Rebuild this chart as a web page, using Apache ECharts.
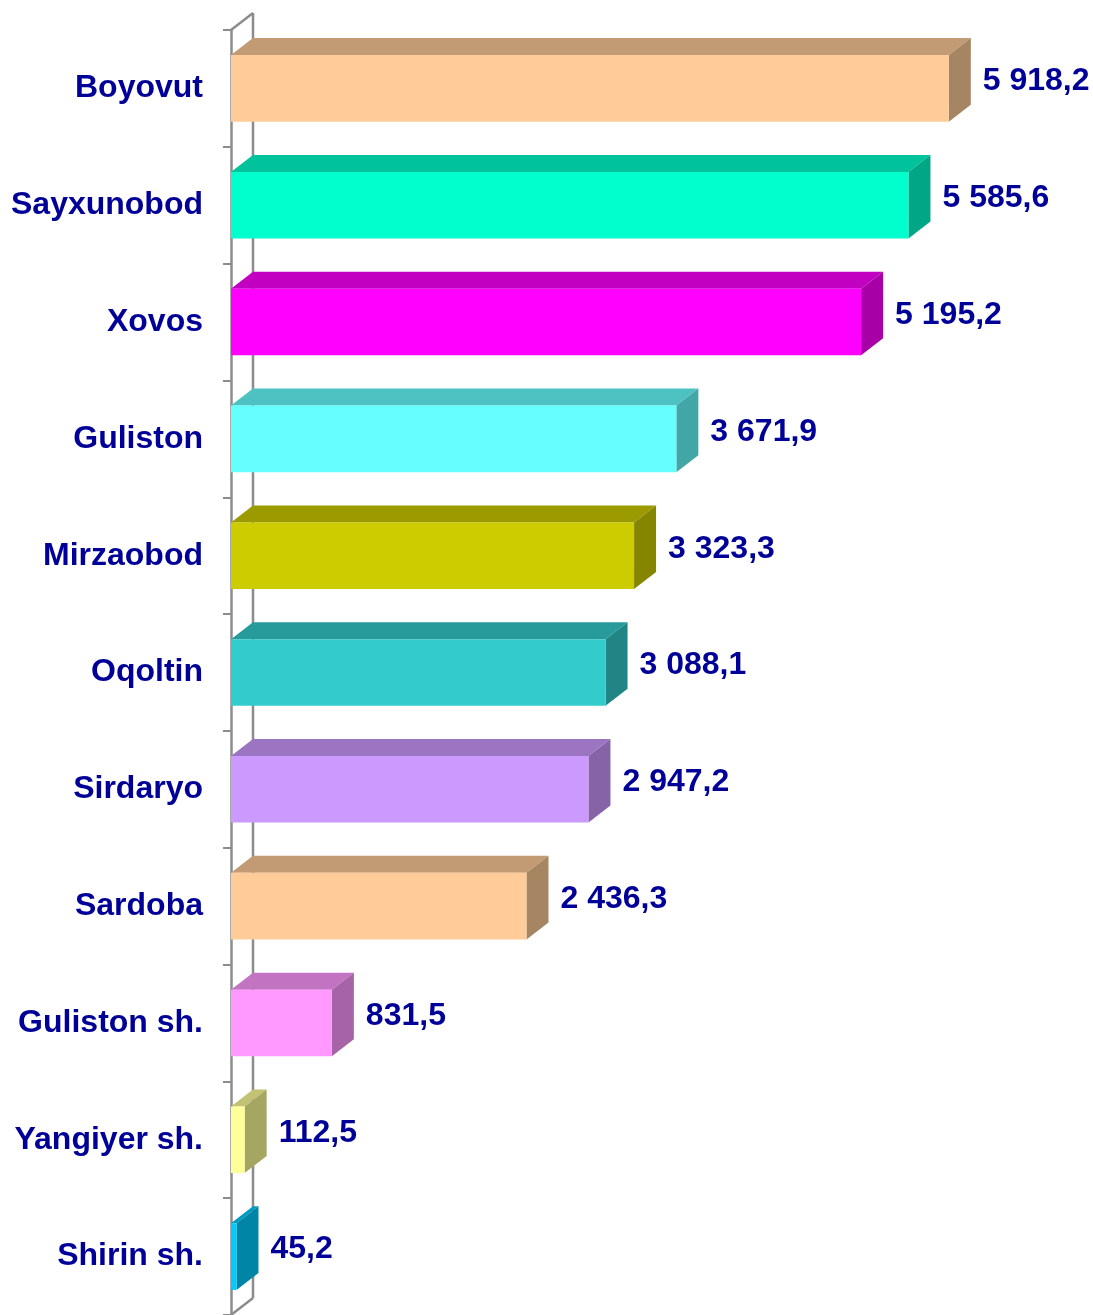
<!DOCTYPE html>
<html>
<head>
<meta charset="utf-8">
<script src="https://cdn.jsdelivr.net/npm/echarts@6/dist/echarts.min.js"></script>
<style>
  html, body { margin: 0; padding: 0; background: #fff; }
  #chart { width: 1093px; height: 1315px; }
</style>
</head>
<body>
<div id="chart"></div>
<script>
// tumanlar (yuqoridan pastga)
const districts = ['Boyovut', 'Sayxunobod', 'Xovos', 'Guliston', 'Mirzaobod', 'Oqoltin',
  'Sirdaryo', 'Sardoba', 'Guliston sh.', 'Yangiyer sh.', 'Shirin sh.']
const values = [5918.2, 5585.6, 5195.2, 3671.9, 3323.3, 3088.1, 2947.2, 2436.3, 831.5, 112.5, 45.2]

// old yuz ranglari
const faceColors = ['#FFCC99', '#00FFCC', '#FF00FF', '#66FFFF', '#CCCC00', '#33CCCC',
  '#CC99FF', '#FFCC99', '#FF99FF', '#FFFF99', '#00CCFF']

const DX = 22   // chuqurlik
const DY = -17
const textColor = '#000099'
const wallColor = '#8c8c8c'
const fontFamily = '"Liberation Sans", Arial, sans-serif'

// rangni qoraytirish
const shade = (hex, k) => {
  const n = parseInt(hex.slice(1), 16)
  const r = Math.round(((n >> 16) & 255) * k)
  const g = Math.round(((n >> 8) & 255) * k)
  const b = Math.round((n & 255) * k)
  return `rgb(${r},${g},${b})`
}

// 5918.2 -> "5 918,2"
const fmt = (v) => {
  const parts = v.toFixed(1).split('.')
  const int = parts[0].replace(/\B(?=(\d{3})+(?!\d))/g, ' ')
  return int + ',' + parts[1]
}

const chart = echarts.init(document.getElementById('chart'))

const renderWall = (params) => {
  const cs = params.coordSys
  const x = cs.x, y = cs.y, h = cs.height
  const style = { stroke: wallColor, lineWidth: 2.5, fill: null }
  return {
    type: 'group',
    children: [
      { type: 'line', shape: { x1: x + DX, y1: y + DY, x2: x + DX, y2: y + h + DY }, style },
      { type: 'line', shape: { x1: x, y1: y, x2: x + DX, y2: y + DY }, style },
      { type: 'line', shape: { x1: x, y1: y + h, x2: x + DX, y2: y + h + DY }, style }
    ]
  }
}

const renderBar = (params, api) => {
  const idx = api.value(1)
  const val = api.value(0)
  const start = api.coord([0, idx])
  const end = api.coord([val, idx])
  const band = api.size([0, 1])[1]
  const bh = band * 0.57
  const x0 = start[0]
  const x1 = end[0]
  const y0 = start[1] - bh / 2
  const base = faceColors[idx]
  return {
    type: 'group',
    children: [
      {
        type: 'polygon',
        shape: { points: [[x0, y0], [x1, y0], [x1 + DX, y0 + DY], [x0 + DX, y0 + DY]] },
        style: { fill: shade(base, 0.76) }
      },
      {
        type: 'polygon',
        shape: { points: [[x1, y0], [x1 + DX, y0 + DY], [x1 + DX, y0 + bh + DY], [x1, y0 + bh]] },
        style: { fill: shade(base, 0.65) }
      },
      {
        type: 'rect',
        shape: { x: x0, y: y0, width: x1 - x0, height: bh },
        style: { fill: base }
      },
      {
        type: 'text',
        x: x1 + DX + 12,
        y: start[1] - 7,
        style: {
          text: fmt(val),
          fill: textColor,
          font: 'bold 32px ' + fontFamily,
          verticalAlign: 'middle',
          align: 'left'
        }
      }
    ]
  }
}

const option = {
  animation: false,
  grid: { left: 231, top: 30, right: 13, height: 1294 },
  xAxis: {
    type: 'value',
    min: 0,
    max: 7000,
    show: false
  },
  yAxis: {
    type: 'category',
    inverse: true,
    data: districts,
    axisLine: { show: true, lineStyle: { color: wallColor, width: 2.5 } },
    axisTick: { show: true, length: 8, lineStyle: { color: wallColor, width: 2 } },
    axisLabel: {
      margin: 28,
      color: textColor,
      fontSize: 32,
      fontWeight: 'bold',
      fontFamily: fontFamily,
      padding: [4, 0, 0, 0]
    },
    splitLine: { show: false }
  },
  series: [
    {
      type: 'custom',
      name: 'wall',
      renderItem: renderWall,
      data: [[0, 0]],
      clip: false,
      silent: true,
      z: 1
    },
    {
      type: 'custom',
      name: 'bars',
      renderItem: renderBar,
      data: values.map((v, i) => [v, i]),
      encode: { x: 0, y: 1 },
      clip: false,
      z: 2
    }
  ]
}

chart.setOption(option)
</script>
</body>
</html>
